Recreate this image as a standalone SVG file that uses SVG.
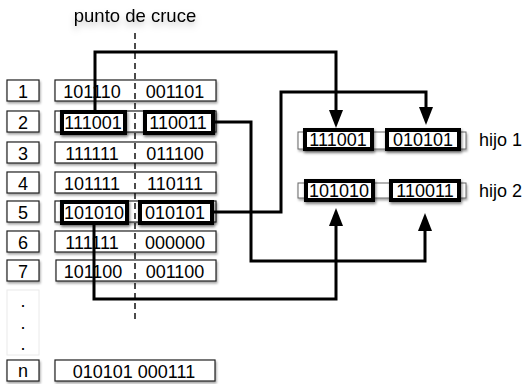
<svg xmlns="http://www.w3.org/2000/svg" width="525" height="384" viewBox="0 0 525 384">
<style>
text{font-family:"Liberation Sans",Arial,sans-serif;font-size:18px;fill:#000}
.c{text-anchor:middle}
.box{fill:#fff;stroke:#222;stroke-width:1.2;filter:url(#sh)}
.thick{fill:#fff;stroke:#000;stroke-width:4;filter:url(#sh2)}
.light{fill:#fff;stroke:#666;stroke-width:1;filter:url(#sh)}
.conn{fill:none;stroke:#000;stroke-width:3;marker-end:url(#arr)}
.cut{stroke:#111;stroke-width:1.5;stroke-dasharray:6,4}
</style>
<defs>
<filter id="sh" x="-10%" y="-30%" width="130%" height="180%"><feDropShadow dx="1" dy="2" stdDeviation="1.2" flood-color="#000" flood-opacity="0.35"/></filter>
<filter id="sh2" x="-10%" y="-30%" width="130%" height="180%"><feDropShadow dx="1" dy="2" stdDeviation="1.5" flood-color="#000" flood-opacity="0.5"/></filter>
<filter id="tsh" x="-20%" y="-50%" width="140%" height="250%"><feDropShadow dx="0" dy="4" stdDeviation="3" flood-color="#000" flood-opacity="0.25"/></filter>
<marker id="arr" viewBox="0 0 18 14" refX="0" refY="7" markerWidth="18" markerHeight="14" markerUnits="userSpaceOnUse" orient="auto"><path d="M0,0 L18,7 L0,14 z" fill="#000"/></marker>
</defs>
<text class="c" x="135" y="22" filter="url(#tsh)" style="font-size:18.5px">punto de cruce</text>
<g id="idx">
<g id="i1"><rect class="box" x="7" y="80" width="32" height="21"/><text class="c" x="23" y="98">1</text></g>
<g id="i2"><rect class="box" x="7" y="111" width="32" height="21"/><text class="c" x="23" y="129">2</text></g>
<g id="i3"><rect class="box" x="7" y="142" width="32" height="21"/><text class="c" x="23" y="160">3</text></g>
<g id="i4"><rect class="box" x="7" y="172" width="32" height="21"/><text class="c" x="23" y="190">4</text></g>
<g id="i5"><rect class="box" x="7" y="201" width="32" height="21"/><text class="c" x="23" y="219">5</text></g>
<g id="i6"><rect class="box" x="7" y="231" width="32" height="21"/><text class="c" x="23" y="249">6</text></g>
<g id="i7"><rect class="box" x="7" y="260" width="32" height="21"/><text class="c" x="23" y="278">7</text></g>
<g id="idots"><rect x="7" y="290" width="32" height="65" fill="#fff" stroke="#eaeaea" stroke-width="1"/><text class="c" x="23" y="307">.</text><text class="c" x="23" y="329">.</text><text class="c" x="23" y="350">.</text></g>
<g id="in"><rect class="box" x="7" y="360" width="32" height="21"/><text class="c" x="23" y="377">n</text></g>
</g>
<g id="chromos">
<g id="c1"><rect class="box" x="55" y="80" width="161" height="21"/><text class="c" x="92" y="98">101110</text><text class="c" x="175" y="98">001101</text></g>
<g id="c2"><rect class="box" x="55" y="111" width="161" height="21"/></g>
<g id="c3"><rect class="box" x="55" y="142" width="161" height="21"/><text class="c" x="92" y="160">111111</text><text class="c" x="175" y="160">011100</text></g>
<g id="c4"><rect class="box" x="55" y="172" width="161" height="21"/><text class="c" x="92" y="190">101111</text><text class="c" x="175" y="190">110111</text></g>
<g id="c5"><rect class="box" x="55" y="201" width="161" height="21"/></g>
<g id="c6"><rect class="box" x="55" y="231" width="161" height="21"/><text class="c" x="92" y="249">111111</text><text class="c" x="175" y="249">000000</text></g>
<g id="c7"><rect class="box" x="56" y="260" width="160" height="21"/><text class="c" x="93" y="278">101100</text><text class="c" x="175" y="278">001100</text></g>
<g id="cn"><rect class="box" x="55" y="360" width="160" height="21"/><text class="c" x="134" y="378">010101 000111</text></g>
</g>
<line class="cut" x1="135" y1="33" x2="135" y2="322"/>
<g id="sel">
<g id="s2a"><rect class="thick" x="62" y="112" width="63" height="21"/><text class="c" x="93" y="129">111001</text></g>
<g id="s2b"><rect class="thick" x="145" y="112" width="68" height="21"/><text class="c" x="178" y="129">110011</text></g>
<g id="s5a"><rect class="thick" x="62" y="202" width="65" height="21"/><text class="c" x="94" y="219">101010</text></g>
<g id="s5b"><rect class="thick" x="140" y="202" width="72" height="21"/><text class="c" x="175" y="219">010101</text></g>
</g>
<g id="hijo1">
<rect class="light" x="298" y="132" width="168" height="17"/>
<rect class="thick" x="305" y="130" width="67" height="19"/><text class="c" x="338" y="146">111001</text>
<rect class="thick" x="387" y="130" width="72" height="19"/><text class="c" x="423" y="146">010101</text>
<text x="479" y="146">hijo 1</text>
</g>
<g id="hijo2">
<rect class="light" x="298" y="183" width="168" height="15"/>
<rect class="thick" x="306" y="181" width="67" height="19"/><text class="c" x="339" y="197">101010</text>
<rect class="thick" x="391" y="181" width="68" height="19"/><text class="c" x="425" y="197">110011</text>
<text x="479" y="197">hijo 2</text>
</g>
<g id="connectors">
<path class="conn" d="M95,111 V52 H336 V110"/>
<path class="conn" d="M213,212 H281 V92 H426 V107"/>
<path class="conn" d="M213,122 H251 V261 H425 V231"/>
<path class="conn" d="M94,224 V299 H336 V226"/>
</g>
</svg>
